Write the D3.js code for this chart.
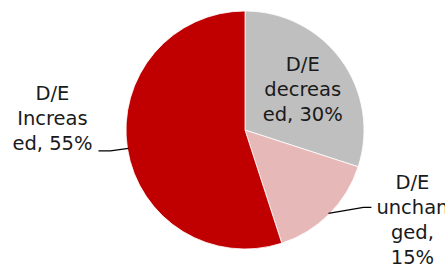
<!DOCTYPE html>
<html><head><meta charset="utf-8">
<script src="https://cdn.jsdelivr.net/npm/d3@7"></script>
<style>html,body{margin:0;padding:0;background:#fff;overflow:hidden}</style>
</head><body>
<svg id="chart" width="445" height="269"></svg>
<script>
const categories = ["D/E decreased", "D/E unchanged", "D/E Increased"];
const values = [30, 15, 55];
const labelLines = [
  ["D/E", "decreas", "ed, 30%"],
  ["D/E", "unchan", "ged,", "15%"],
  ["D/E", "Increas", "ed, 55%"]
];
const colors = ["#BFBFBF", "#E6B9B8", "#C00000"];

const svg = d3.select("#chart");
const cx = 245, cy = 130, r = 119;
const g = svg.append("g").attr("transform", `translate(${cx},${cy})`);

const data = categories.map((c, i) => ({cat: c, value: values[i], lines: labelLines[i], color: colors[i]}));
const pie = d3.pie().value(d => d.value).sort(null);
const arcs = pie(data);
const arc = d3.arc().innerRadius(0).outerRadius(r);

g.selectAll("path.slice").data(arcs).enter().append("path")
  .attr("class", "slice")
  .attr("d", arc)
  .attr("fill", d => d.data.color)
  .attr("stroke", "#fff")
  .attr("stroke-width", 0.8);

const fontFamily = "'DejaVu Sans', sans-serif";
const fs = 19.5;
const lh = 25;

function edgePoint(a, rad) {
  const m = (a.startAngle + a.endAngle) / 2;
  return [Math.sin(m) * rad, -Math.cos(m) * rad];
}

// label 0: inside
{
  const a = arcs[0];
  const [x, y] = edgePoint(a, r * 0.6);
  const t = g.append("text").attr("text-anchor", "middle")
    .attr("font-family", fontFamily).attr("font-size", fs).attr("fill", "#1a1a1a");
  a.data.lines.forEach((l, i) => {
    t.append("tspan").attr("x", x).attr("y", y - 17 + i * lh).text(l);
  });
}
// label 1: outside right with leader
{
  const a = arcs[1];
  const [ex, ey] = edgePoint(a, r - 1);
  const lx = ex + 84, ly = ey - 27;
  g.append("path").attr("d", `M${ex},${ey}L${ex + 35},${ey - 6}L${ex + 43},${ey - 6}`)
    .attr("fill", "none").attr("stroke", "#000").attr("stroke-width", 1.3);
  const t = g.append("text").attr("text-anchor", "middle")
    .attr("font-family", fontFamily).attr("font-size", fs).attr("fill", "#1a1a1a");
  a.data.lines.forEach((l, i) => {
    t.append("tspan").attr("x", lx).attr("y", ly + 3 + i * lh).text(l);
  });
}
// label 2: outside left with leader
{
  const a = arcs[2];
  const [ex, ey] = edgePoint(a, r - 1);
  const lx = ex - 76;
  g.append("path").attr("d", `M${ex},${ey}L${ex - 18},${ey + 2.5}L${ex - 30},${ey + 2.5}`)
    .attr("fill", "none").attr("stroke", "#000").attr("stroke-width", 1.3);
  const t = g.append("text").attr("text-anchor", "middle")
    .attr("font-family", fontFamily).attr("font-size", fs).attr("fill", "#1a1a1a");
  a.data.lines.forEach((l, i) => {
    t.append("tspan").attr("x", lx).attr("y", ey + 2 + (i - 2) * lh).text(l);
  });
}
</script>
</body></html>
